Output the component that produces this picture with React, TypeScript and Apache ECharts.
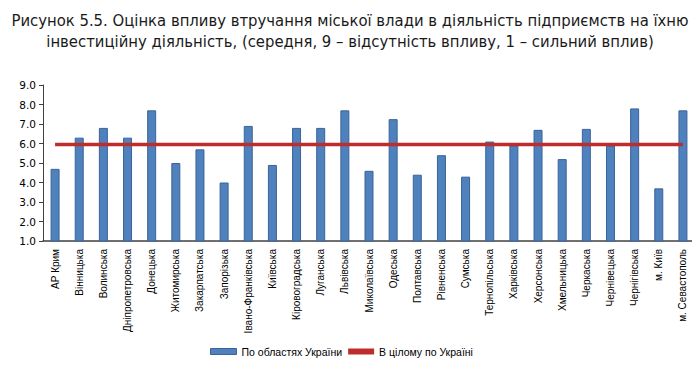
import React, { useEffect, useRef } from "react";
import * as echarts from "echarts";

const titleLines = [
  "Рисунок 5.5. Оцінка впливу втручання міської влади в діяльність підприємств на їхню",
  "інвестиційну діяльність, (середня, 9 – відсутність впливу, 1 – сильний вплив)",
];

const regions = [
  "АР Крим", "Вінницька", "Волинська", "Дніпропетровська", "Донецька", "Житомирська",
  "Закарпатська", "Запорізька", "Івано-Франківська", "Київська", "Кіровоградська",
  "Луганська", "Львівська", "Миколаївська", "Одеська", "Полтавська", "Рівненська",
  "Сумська", "Тернопільська", "Харківська", "Херсонська", "Хмельницька", "Черкаська",
  "Чернівецька", "Чернігівська", "м. Київ", "м. Севастополь",
];

const regionValues = [
  4.7, 6.3, 6.8, 6.3, 7.7, 5.0, 5.7, 4.0, 6.9, 4.9, 6.8, 6.8, 7.7, 4.6, 7.25, 4.4, 5.4,
  4.3, 6.1, 5.9, 6.7, 5.2, 6.75, 5.9, 7.8, 3.7, 7.7,
];

const ukraineAverage = 5.95;
const averageValues = regions.map(() => ukraineAverage);

const seriesNames = ["По областях України", "В цілому по Україні"];

export default function App() {
  const ref = useRef<HTMLDivElement>(null);
  useEffect(() => {
    if (!ref.current) return;
    const chart = echarts.init(ref.current, null, { renderer: "svg" });
    chart.setOption({
      animation: false,
      backgroundColor: "#ffffff",
      title: {
        text: titleLines.join("\n"),
        left: "center",
        top: 5,
        textStyle: {
          fontFamily: "DejaVu Sans Condensed",
          fontSize: 16.5,
          fontWeight: "normal",
          color: "#1a1a1a",
          lineHeight: 21,
        },
      },
      grid: { left: 43, right: 5, top: 85, bottom: 133, containLabel: false },
      legend: {
        bottom: 12,
        left: 205,
        itemWidth: 26,
        itemHeight: 6,
        itemGap: 6,
        icon: "rect",
        textStyle: { fontFamily: "Liberation Sans", fontSize: 10.5, color: "#000" },
        data: [
          { name: seriesNames[0], itemStyle: { color: "#4f81bd", borderColor: "#3a639a", borderWidth: 1 } },
          { name: seriesNames[1], itemStyle: { color: "#be2c2c" } },
        ],
      },
      xAxis: {
        type: "category",
        data: regions,
        axisLine: { lineStyle: { color: "#404040", width: 1.5 } },
        axisTick: { show: false },
        axisLabel: {
          rotate: 90,
          interval: 0,
          fontFamily: "Liberation Sans",
          fontSize: 10,
          color: "#000",
          margin: 8,
        },
      },
      yAxis: {
        type: "value",
        min: 1,
        max: 9,
        interval: 1,
        axisLine: { show: true, lineStyle: { color: "#404040" } },
        axisTick: { show: true, length: 4, lineStyle: { color: "#404040" } },
        splitLine: { show: false },
        axisLabel: {
          formatter: (v: number) => v.toFixed(1),
          fontFamily: "DejaVu Sans",
          fontSize: 10.5,
          color: "#000",
          margin: 7,
        },
      },
      series: [
        {
          name: seriesNames[0],
          type: "bar",
          data: regionValues,
          barWidth: 9,
          itemStyle: { color: "#4f81bd", borderColor: "#3a639a", borderWidth: 1 },
        },
        {
          name: seriesNames[1],
          type: "line",
          data: averageValues,
          symbol: "none",
          showSymbol: false,
          lineStyle: { color: "#be2c2c", width: 3.5 },
          itemStyle: { color: "#be2c2c" },
          z: 5,
        },
      ],
    });
    return () => chart.dispose();
  }, []);
  return <div ref={ref} style={{ width: 700, height: 374, margin: -8 }} />;
}
